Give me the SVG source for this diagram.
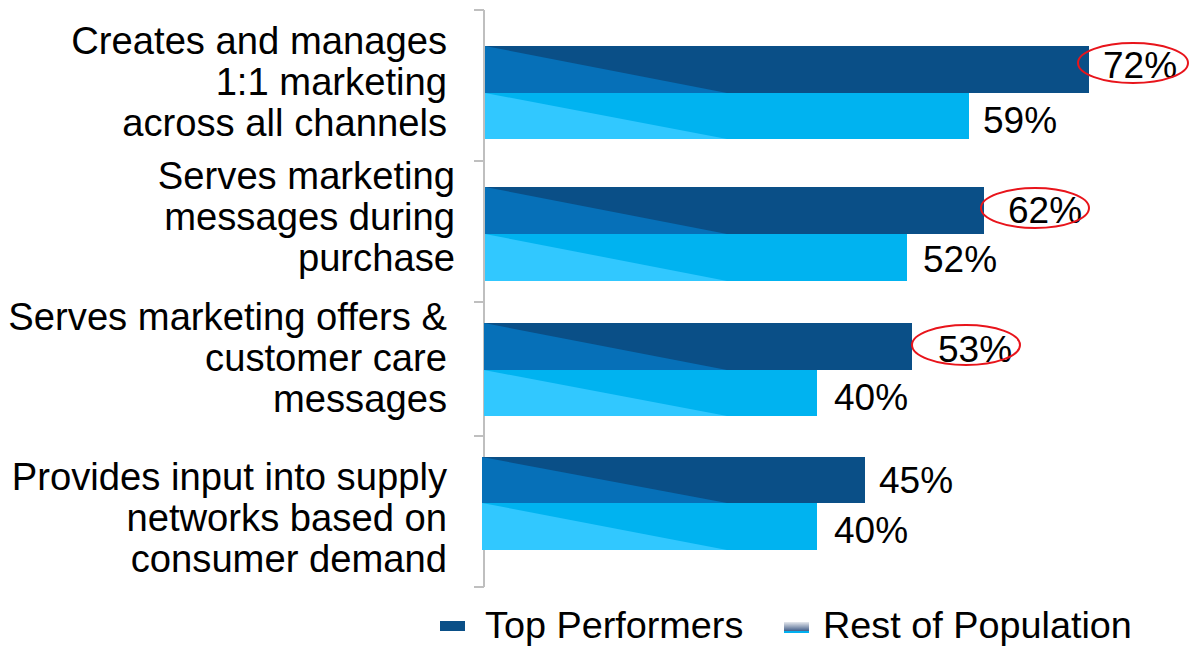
<svg xmlns="http://www.w3.org/2000/svg" width="1189" height="646" viewBox="0 0 1189 646">
<defs>
<linearGradient id="legRest" x1="0" y1="0" x2="0" y2="1">
<stop offset="0" stop-color="#E6E9EE"/>
<stop offset="0.85" stop-color="#3E5A86"/>
<stop offset="0.86" stop-color="#00B0F0"/>
<stop offset="1" stop-color="#00B0F0"/>
</linearGradient>
</defs>
<style>
text{font-family:"Liberation Sans",Arial,sans-serif;fill:#000}
.cat{font-size:38.2px;text-anchor:end}
.val{font-size:37px}
.leg{font-size:37.8px}
.dk{fill:#0A4F87}
.dkt{fill:#0670B8}
.lt{fill:#00B3F0}
.ltt{fill:#31C8FF}
.ax{stroke:#BFBFBF;stroke-width:2;fill:none}
.ring{fill:none;stroke:#E8141B;stroke-width:2}
</style>
<rect width="1189" height="646" fill="#fff"/>
<g id="axis">
<path class="ax" d="M484 10V587M474 10H484M474 161H484M474 302H484M474 436H484M474 587H484"/>
</g>
<g id="cat1">
<text class="cat" x="447" y="54">Creates and manages</text>
<text class="cat" x="447" y="95">1:1 marketing</text>
<text class="cat" x="447" y="136">across all channels</text>
<rect class="dk" x="485" y="46" width="604" height="47"/>
<polygon class="dkt" points="485,46 727,93 485,93"/>
<rect class="lt" x="485" y="93" width="484" height="46"/>
<polygon class="ltt" points="485,93 727,139 485,139"/>
<text class="val" x="1103" y="78">72%</text>
<text class="val" x="983" y="133">59%</text>
<ellipse class="ring" cx="1133" cy="63" rx="55" ry="20"/>
</g>
<g id="cat2">
<text class="cat" x="455" y="189">Serves marketing</text>
<text class="cat" x="455" y="230">messages during</text>
<text class="cat" x="455" y="271">purchase</text>
<rect class="dk" x="485" y="187" width="499" height="47"/>
<polygon class="dkt" points="485,187 727,234 485,234"/>
<rect class="lt" x="485" y="234" width="422" height="47"/>
<polygon class="ltt" points="485,234 727,281 485,281"/>
<text class="val" x="1008" y="223">62%</text>
<text class="val" x="923" y="272">52%</text>
<ellipse class="ring" cx="1035" cy="208" rx="54" ry="20"/>
</g>
<g id="cat3">
<text class="cat" x="447" y="330">Serves marketing offers &amp;</text>
<text class="cat" x="447" y="371">customer care</text>
<text class="cat" x="447" y="412">messages</text>
<rect class="dk" x="484" y="323" width="428" height="47"/>
<polygon class="dkt" points="484,323 727,370 484,370"/>
<rect class="lt" x="484" y="370" width="333" height="46"/>
<polygon class="ltt" points="484,370 727,416 484,416"/>
<text class="val" x="938" y="362">53%</text>
<text class="val" x="834" y="410">40%</text>
<ellipse class="ring" cx="966" cy="345" rx="54" ry="20"/>
</g>
<g id="cat4">
<text class="cat" x="447" y="490">Provides input into supply</text>
<text class="cat" x="447" y="531">networks based on</text>
<text class="cat" x="447" y="572">consumer demand</text>
<rect class="dk" x="482" y="457" width="383" height="46"/>
<polygon class="dkt" points="482,457 727,503 482,503"/>
<rect class="lt" x="482" y="503" width="335" height="47"/>
<polygon class="ltt" points="482,503 727,550 482,550"/>
<text class="val" x="879" y="493">45%</text>
<text class="val" x="834" y="543">40%</text>
</g>
<g id="legend">
<rect class="dk" x="440" y="621" width="25" height="10"/>
<text class="leg" x="485" y="638">Top Performers</text>
<rect x="784" y="622" width="25" height="11" fill="url(#legRest)"/>
<text class="leg" x="823" y="638">Rest of Population</text>
</g>
</svg>
